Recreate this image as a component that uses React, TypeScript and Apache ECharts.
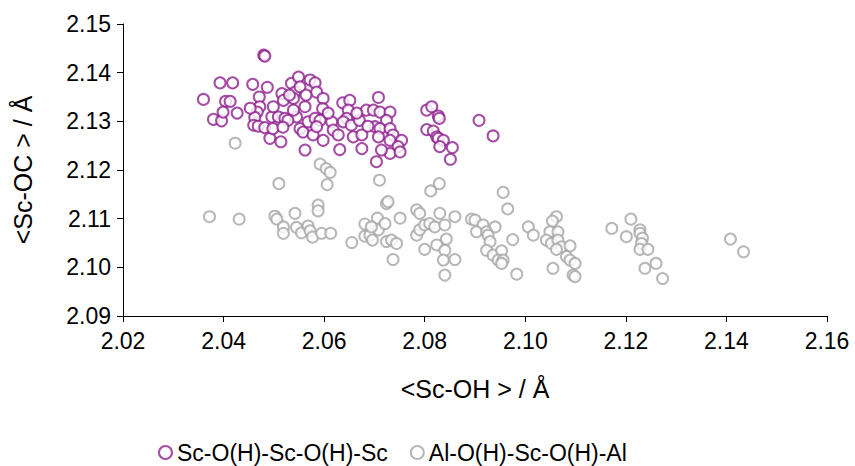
import React, { useEffect, useRef } from "react";
import * as echarts from "echarts";

const seriesNames = ["Sc-O(H)-Sc-O(H)-Sc", "Al-O(H)-Sc-O(H)-Al"];
const xAxisName = "<Sc-OH > / Å";
const yAxisName = "<Sc-OC > / Å";

// Sc-O(H)-Sc-O(H)-Sc : [<Sc-OH>, <Sc-OC>]
const scScData: number[][] = [
  [2.036, 2.1345], [2.0393, 2.1379], [2.0418, 2.1379], [2.0404, 2.1341], [2.0413, 2.1341],
  [2.038, 2.1304], [2.0396, 2.1301], [2.0399, 2.1319], [2.0427, 2.1317], [2.048, 2.1436],
  [2.0482, 2.1434], [2.0458, 2.1376], [2.0487, 2.137], [2.0471, 2.135], [2.0472, 2.133],
  [2.0467, 2.1319], [2.0462, 2.1308], [2.046, 2.1292], [2.0469, 2.129], [2.0482, 2.1287],
  [2.0492, 2.1265], [2.0514, 2.1258], [2.0498, 2.1285], [2.0496, 2.1309], [2.0499, 2.133],
  [2.0516, 2.1357], [2.0519, 2.1343], [2.0509, 2.1309], [2.0522, 2.1306], [2.0535, 2.1378],
  [2.0542, 2.136], [2.0549, 2.1391], [2.0552, 2.1371], [2.0539, 2.1347], [2.0531, 2.1354],
  [2.0545, 2.1309], [2.0539, 2.1323], [2.0562, 2.133], [2.0552, 2.1285], [2.0558, 2.1278],
  [2.0568, 2.1299], [2.0572, 2.1385], [2.0582, 2.1379], [2.0585, 2.136], [2.0598, 2.1347],
  [2.0597, 2.1326], [2.0582, 2.1306], [2.0592, 2.1302], [2.0578, 2.1272], [2.0598, 2.1261],
  [2.0562, 2.1241], [2.0585, 2.1289], [2.0615, 2.1299], [2.0618, 2.1282], [2.0628, 2.1272],
  [2.0631, 2.1242], [2.0637, 2.1338], [2.0651, 2.1343], [2.0648, 2.1323], [2.0645, 2.1306],
  [2.0638, 2.1299], [2.0654, 2.1292], [2.067, 2.1302], [2.0658, 2.1268], [2.0675, 2.1272],
  [2.0675, 2.1244], [2.0684, 2.1323], [2.0698, 2.1323], [2.0708, 2.1349], [2.0711, 2.1319],
  [2.0731, 2.1319], [2.0724, 2.1302], [2.0701, 2.1289], [2.0711, 2.1285], [2.0731, 2.1285],
  [2.0708, 2.1268], [2.0737, 2.1272], [2.0731, 2.1261], [2.0754, 2.1261], [2.0747, 2.1248],
  [2.0731, 2.1234], [2.0751, 2.1237], [2.0714, 2.1241], [2.0704, 2.1217], [2.0804, 2.1323],
  [2.0814, 2.133], [2.0804, 2.1283], [2.0817, 2.128], [2.0824, 2.1268], [2.0827, 2.1311],
  [2.0829, 2.1306], [2.0827, 2.1265], [2.0837, 2.1261], [2.083, 2.1248], [2.0855, 2.1246],
  [2.0851, 2.1222], [2.0908, 2.1302], [2.0936, 2.127], [2.0528, 2.1302], [2.0564, 2.1354],
  [2.0608, 2.1317], [2.0665, 2.1317], [2.0687, 2.129], [2.0518, 2.1288], [2.0453, 2.1327],
];

// Al-O(H)-Sc-O(H)-Al : [<Sc-OH>, <Sc-OC>]
const alScData: number[][] = [
  [2.0423, 2.1255], [2.0592, 2.1212], [2.0604, 2.1203], [2.0612, 2.1195], [2.051, 2.1172],
  [2.0606, 2.117], [2.0588, 2.1128], [2.0588, 2.1116], [2.0372, 2.1104], [2.0431, 2.1099],
  [2.0502, 2.1105], [2.0506, 2.1099], [2.0542, 2.1111], [2.0519, 2.1083], [2.0519, 2.107],
  [2.0545, 2.1082], [2.0555, 2.1071], [2.0568, 2.1085], [2.0572, 2.1075], [2.0577, 2.1062],
  [2.0595, 2.107], [2.0613, 2.107], [2.0655, 2.1051], [2.0681, 2.1089], [2.0681, 2.1064],
  [2.0691, 2.1066], [2.0696, 2.1056], [2.0706, 2.1101], [2.071, 2.1179], [2.0812, 2.1157],
  [2.0829, 2.1172], [2.0724, 2.1131], [2.0727, 2.1135], [2.0956, 2.1154], [2.0965, 2.112],
  [2.1172, 2.108], [2.0708, 2.1077], [2.0694, 2.1083], [2.0721, 2.109], [2.0724, 2.1053],
  [2.0734, 2.1056], [2.0744, 2.1049], [2.0751, 2.1101], [2.0737, 2.1016], [2.0784, 2.1118],
  [2.079, 2.1111], [2.0784, 2.1066], [2.079, 2.1077], [2.08, 2.1087], [2.081, 2.109],
  [2.082, 2.1083], [2.083, 2.1111], [2.084, 2.1087], [2.086, 2.1104], [2.0843, 2.1058],
  [2.0824, 2.1046], [2.08, 2.1037], [2.084, 2.1035], [2.0837, 2.1015], [2.086, 2.1016],
  [2.084, 2.0984], [2.0893, 2.1099], [2.09, 2.1097], [2.0916, 2.1087], [2.094, 2.1083],
  [2.0903, 2.1073], [2.0923, 2.1073], [2.0926, 2.1066], [2.093, 2.1053], [2.0923, 2.1035],
  [2.0936, 2.1025], [2.0953, 2.1034], [2.0946, 2.1015], [2.0956, 2.1015], [2.0953, 2.1008],
  [2.0975, 2.1057], [2.0983, 2.0986], [2.1006, 2.1083], [2.1016, 2.1066], [2.1062, 2.1104],
  [2.1054, 2.1095], [2.1049, 2.1073], [2.1065, 2.1073], [2.1042, 2.1056], [2.1052, 2.1049],
  [2.1065, 2.1056], [2.1072, 2.1042], [2.1062, 2.1037], [2.1089, 2.1044], [2.1082, 2.1022],
  [2.1089, 2.1015], [2.1099, 2.1008], [2.1055, 2.0998], [2.1095, 2.0984], [2.1099, 2.0981],
  [2.121, 2.1099], [2.1201, 2.1063], [2.1228, 2.1077], [2.1228, 2.107], [2.1233, 2.106],
  [2.1231, 2.1049], [2.1228, 2.1037], [2.1244, 2.1037], [2.126, 2.1008], [2.1238, 2.0998],
  [2.1273, 2.0977], [2.1408, 2.1058], [2.1434, 2.1032],
];

const FONT = "'Liberation Sans', Arial, sans-serif";
const PURPLE = "#8E1F8E";
const GRAY = "#A6A6A6";

export default function App() {
  const ref = useRef<HTMLDivElement>(null);
  useEffect(() => {
    if (!ref.current) return;
    const chart = echarts.init(ref.current, null, { renderer: "svg" });
    const axisCommon = {
      axisLine: { show: true, lineStyle: { color: "#000", width: 1 } },
      axisTick: { show: true, inside: false, length: 6, lineStyle: { color: "#000", width: 1 } },
      splitLine: { show: false },
      axisLabel: {
        color: "#000",
        fontSize: 23,
        fontFamily: FONT,
        formatter: (v: number) => v.toFixed(2),
      },
      nameLocation: "middle" as const,
      nameTextStyle: { color: "#000", fontSize: 25, fontFamily: FONT },
    };
    chart.setOption({
      animation: false,
      backgroundColor: "#fff",
      grid: { left: 123, right: 28, top: 24, bottom: 150, containLabel: false },
      xAxis: {
        type: "value",
        min: 2.02,
        max: 2.16,
        interval: 0.02,
        name: xAxisName,
        nameGap: 60,
        ...axisCommon,
        axisLabel: { ...axisCommon.axisLabel, margin: 13 },
      },
      yAxis: {
        type: "value",
        min: 2.09,
        max: 2.15,
        interval: 0.01,
        name: yAxisName,
        nameGap: 88,
        ...axisCommon,
        axisLabel: { ...axisCommon.axisLabel, margin: 12 },
      },
      legend: {
        left: 158,
        top: 441,
        padding: 0,
        itemWidth: 13,
        itemHeight: 13,
        itemGap: 22,
        textStyle: { color: "#000", fontSize: 23, lineHeight: 23, fontFamily: FONT },
        data: seriesNames,
      },
      series: [
        {
          name: seriesNames[1],
          type: "scatter",
          data: alScData,
          symbol: "emptyCircle",
          symbolSize: 11,
          itemStyle: { color: GRAY, borderColor: GRAY, borderWidth: 2.3 },
        },
        {
          name: seriesNames[0],
          type: "scatter",
          data: scScData,
          symbol: "emptyCircle",
          symbolSize: 11,
          itemStyle: { color: PURPLE, borderColor: PURPLE, borderWidth: 2.3 },
        },
      ],
    });
    return () => chart.dispose();
  }, []);
  return (
    <div
      ref={ref}
      style={{ position: "fixed", left: 0, top: 0, width: 855, height: 466, background: "#fff" }}
    />
  );
}
